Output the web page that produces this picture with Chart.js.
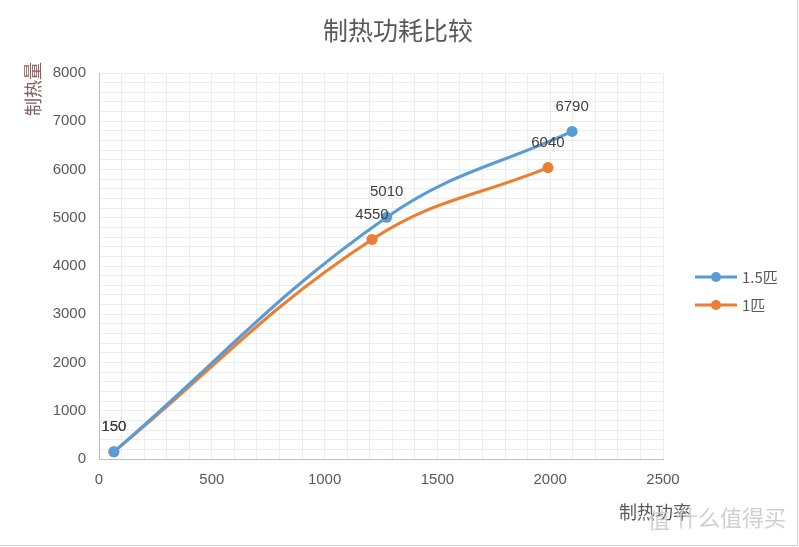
<!DOCTYPE html>
<html>
<head>
<meta charset="utf-8">
<script src="https://cdn.jsdelivr.net/npm/chart.js@4/dist/chart.umd.min.js"></script>
<style>
html,body{margin:0;padding:0;background:#fff;}
#wrap{width:799px;height:547px;position:relative;}
</style>
</head>
<body>
<div id="wrap"><canvas id="c" width="799" height="547"></canvas></div>
<script>
const chartTitle = '制热功耗比较';
const xTitle = '制热功率';
const yTitle = '制热量';
const seriesNames = ['1.5匹', '1匹'];
const series15X = [66, 1275, 2097];
const series15Y = [150, 5010, 6790];
const series1X = [66, 1210, 1990];
const series1Y = [150, 4550, 6040];
const colors = ['#5B9BD5', '#ED7D31'];
const xMin = 0, xMax = 2500, xMajor = 500, xMinor = 100;
const yMin = 0, yMax = 8000, yMajor = 1000, yMinor = 200;

const toPts = (xs, ys) => xs.map((x, i) => ({x: x, y: ys[i]}));

const CJK = '"Noto Sans CJK SC", "Noto Sans", sans-serif';
const NUM = '"Liberation Sans", "DejaVu Sans", sans-serif';

const decor = {
  id: 'decor',
  afterDatasetsDraw(chart) {
    const ctx = chart.ctx;
    ctx.save();
    // data labels
    ctx.font = '15px ' + NUM;
    ctx.fillStyle = '#404040';
    ctx.textAlign = 'center';
    ctx.textBaseline = 'middle';
    chart.data.datasets.forEach((ds, di) => {
      const meta = chart.getDatasetMeta(di);
      meta.data.forEach((el, i) => {
        ctx.fillText(String(ds.data[i].y), el.x, el.y - 25);
      });
    });
    ctx.restore();
  },
  afterDraw(chart) {
    const ctx = chart.ctx;
    ctx.save();
    // title
    ctx.fillStyle = '#595959';
    ctx.font = '25px ' + CJK;
    ctx.textAlign = 'center';
    ctx.textBaseline = 'middle';
    ctx.fillText(chartTitle, 398, 30);
    // x title
    ctx.font = '18px ' + CJK;
    ctx.fillText(xTitle, 655, 512);
    // y title (rotated)
    ctx.save();
    ctx.translate(33, 89);
    ctx.rotate(-Math.PI / 2);
    ctx.fillStyle = '#7F6060';
    ctx.font = '18px ' + CJK;
    ctx.fillText(yTitle, 0, 0);
    ctx.restore();
    // legend
    const lx = 695, ly = [277, 305];
    seriesNames.forEach((n, i) => {
      ctx.strokeStyle = colors[i];
      ctx.lineWidth = 3;
      ctx.beginPath();
      ctx.moveTo(lx, ly[i]);
      ctx.lineTo(lx + 42, ly[i]);
      ctx.stroke();
      ctx.fillStyle = colors[i];
      ctx.beginPath();
      ctx.arc(lx + 21, ly[i], 5, 0, Math.PI * 2);
      ctx.fill();
      ctx.fillStyle = '#595959';
      ctx.font = '15px ' + CJK;
      ctx.textAlign = 'left';
      ctx.fillText(n, lx + 47, ly[i]);
    });
    // watermark
    ctx.fillStyle = 'rgba(200,200,200,0.85)';
    ctx.font = '22px ' + CJK;
    ctx.textAlign = 'left';
    ctx.fillText('值', 648, 520);
    ctx.fillText('什么值得买', 676, 518);
    // outer border (right & bottom)
    ctx.strokeStyle = '#D0D0D0';
    ctx.lineWidth = 1;
    ctx.beginPath();
    ctx.moveTo(0, 545.5);
    ctx.lineTo(797.5, 545.5);
    ctx.lineTo(797.5, 0);
    ctx.stroke();
    ctx.restore();
  }
};

new Chart(document.getElementById('c'), {
  type: 'scatter',
  data: {
    datasets: [
      {
        label: seriesNames[0],
        data: toPts(series15X, series15Y),
        borderColor: colors[0],
        backgroundColor: colors[0],
        showLine: true,
        tension: 0.4,
        borderWidth: 3,
        pointRadius: 5.5,
        pointBorderWidth: 0
      },
      {
        label: seriesNames[1],
        data: toPts(series1X, series1Y),
        borderColor: colors[1],
        backgroundColor: colors[1],
        showLine: true,
        tension: 0.4,
        borderWidth: 3,
        pointRadius: 5.5,
        pointBorderWidth: 0
      }
    ]
  },
  options: {
    responsive: false,
    animation: false,
    devicePixelRatio: 1,
    layout: { padding: { left: 0, top: 73, right: 136, bottom: 0 } },
    plugins: { legend: { display: false }, title: { display: false }, tooltip: { enabled: false } },
    scales: {
      x: {
        type: 'linear',
        min: xMin, max: xMax,
        afterFit(s) { s.height = 88; },
        ticks: {
          stepSize: xMinor,
          autoSkip: false,
          maxRotation: 0,
          padding: 12,
          color: '#595959',
          font: { size: 15, family: NUM },
          callback: v => (v % xMajor === 0 ? String(v) : '')
        },
        grid: { color: '#EDEDED', drawTicks: false, lineWidth: 1 },
        border: { display: true, color: '#BFBFBF', width: 1 }
      },
      y: {
        type: 'linear',
        min: yMin, max: yMax,
        afterFit(s) { s.width = 99; },
        ticks: {
          stepSize: yMinor,
          autoSkip: false,
          padding: 13,
          color: '#595959',
          font: { size: 15, family: NUM },
          callback: v => (v % yMajor === 0 ? String(v) : '')
        },
        grid: { color: '#EDEDED', drawTicks: false, lineWidth: 1 },
        border: { display: true, color: '#BFBFBF', width: 1 }
      }
    }
  },
  plugins: [decor]
});
</script>
</body>
</html>
